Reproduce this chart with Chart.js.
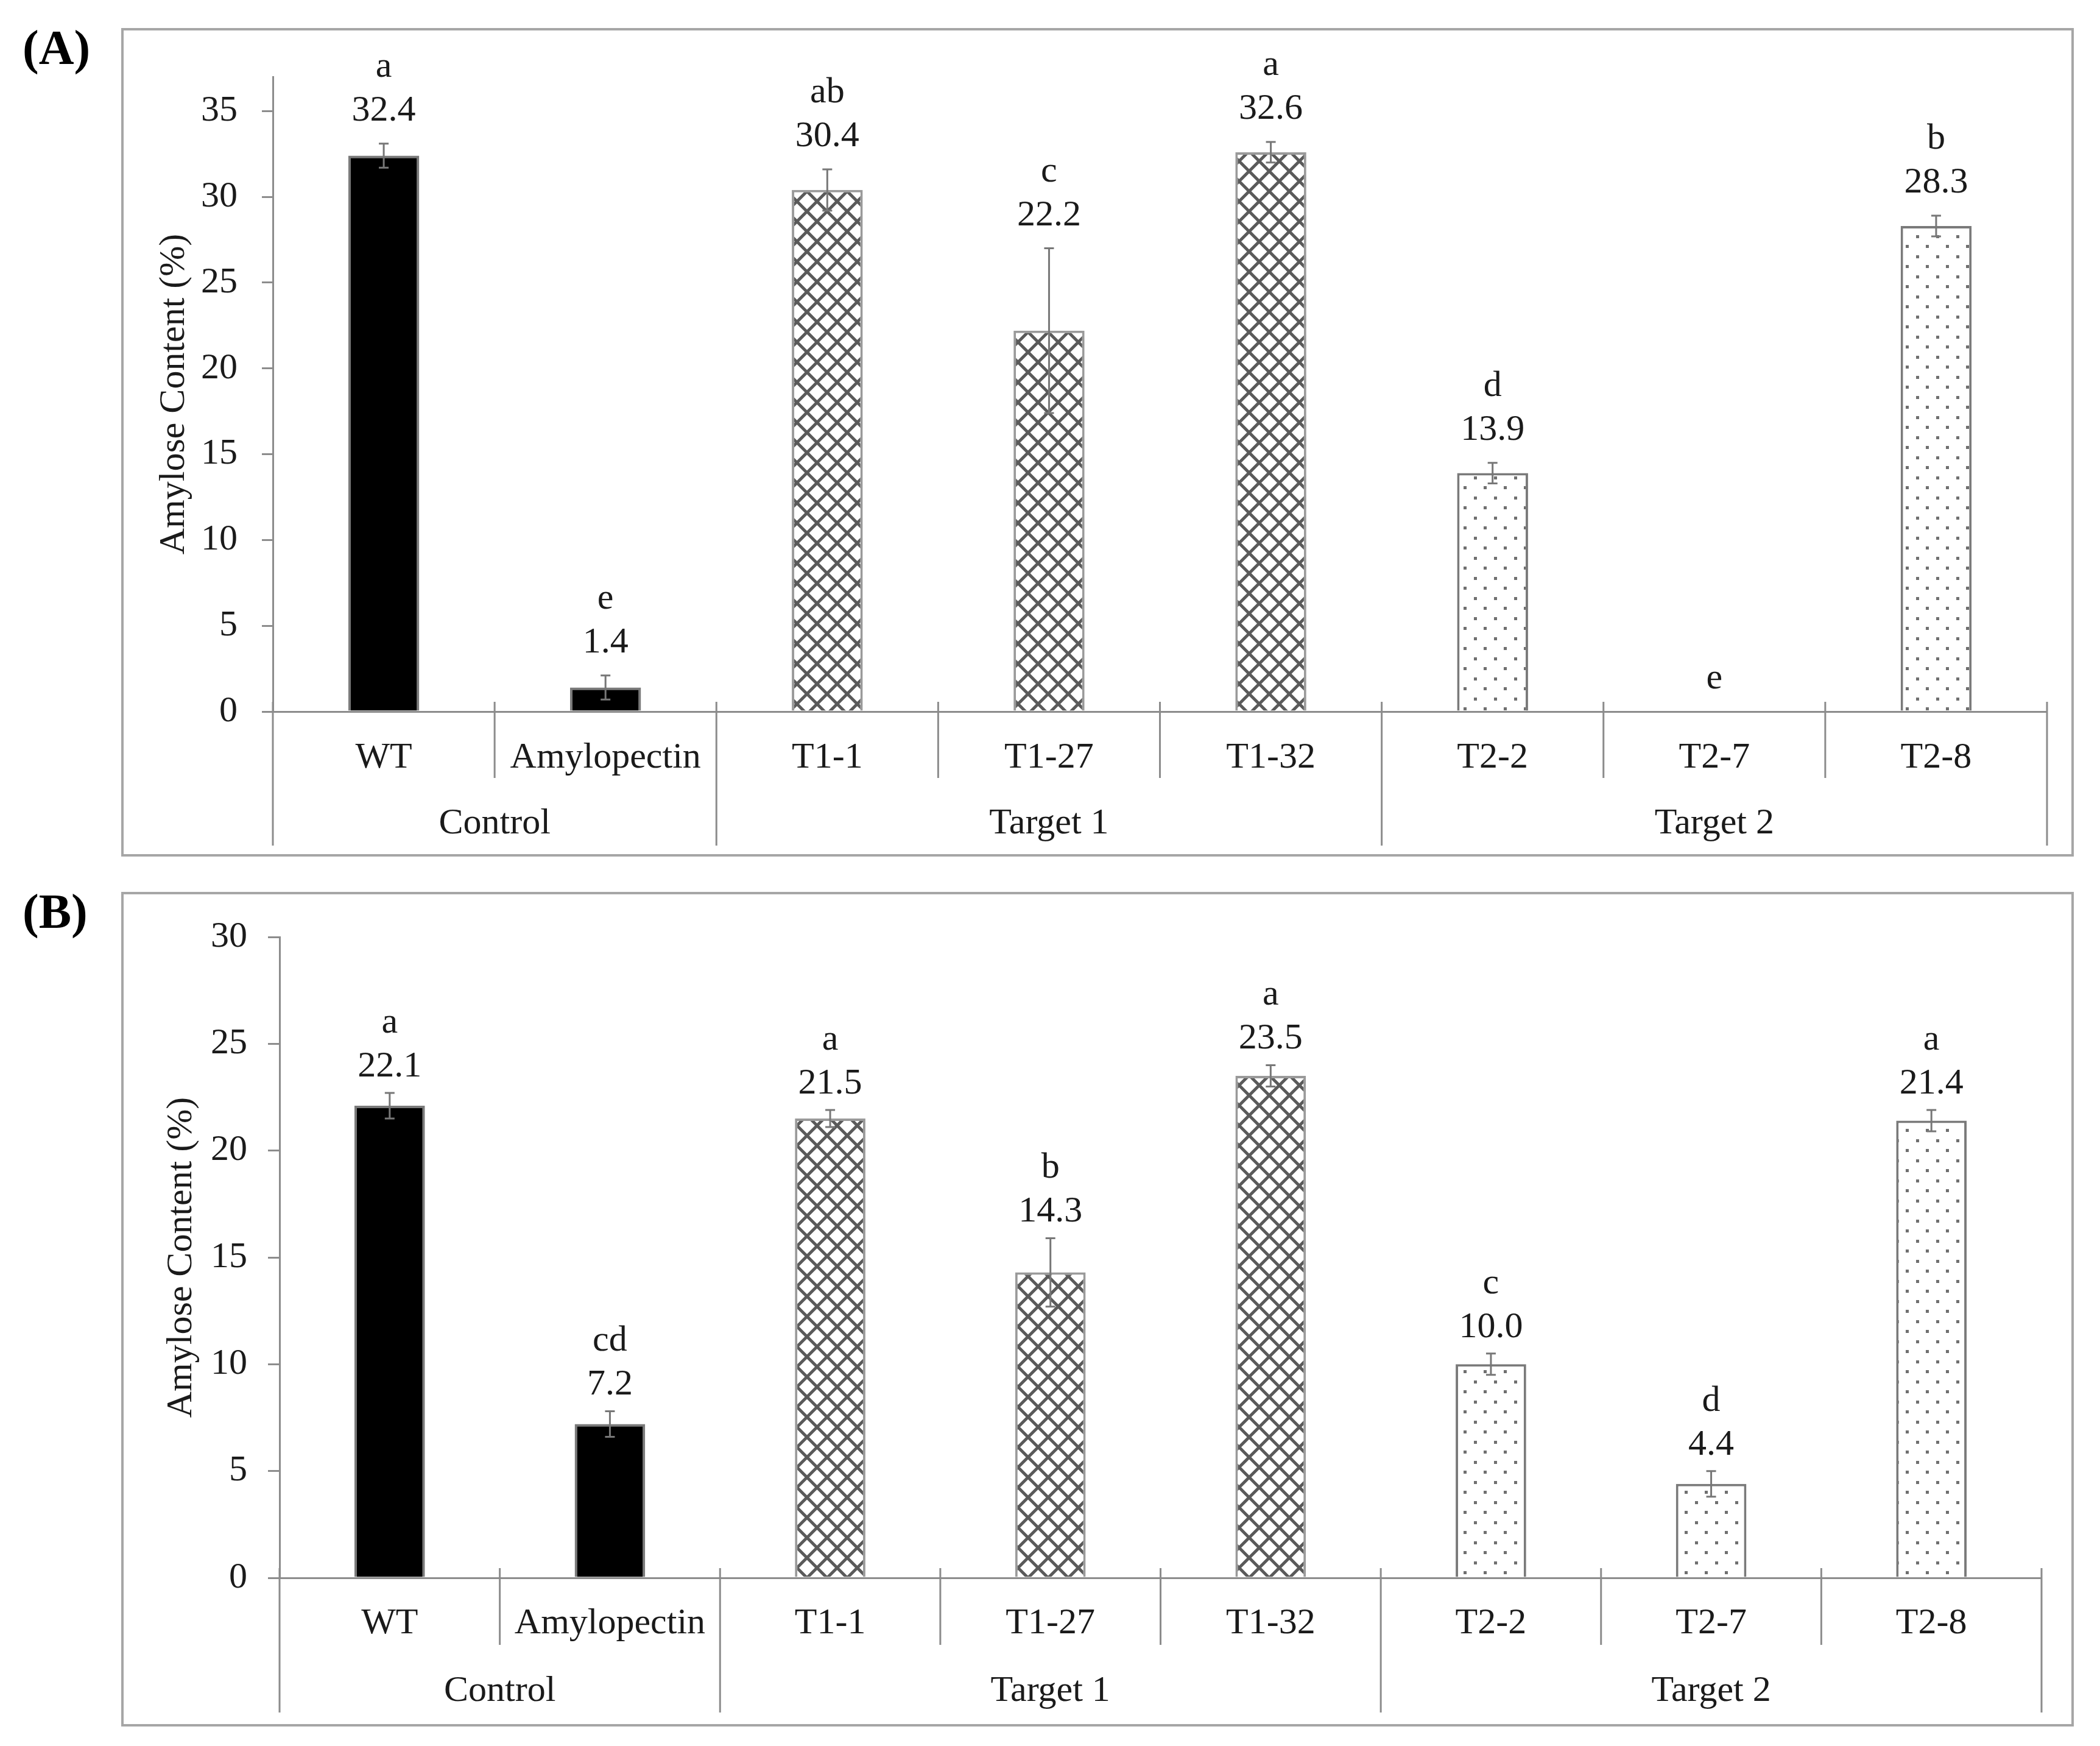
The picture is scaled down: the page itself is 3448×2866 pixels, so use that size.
<!DOCTYPE html>
<html lang="en">
<head>
    <meta charset="UTF-8" />
    <title>Amylose content</title>
    <script src="https://cdn.jsdelivr.net/npm/chart.js"></script>
    <style>
        body { margin: 0; background: #fff; width: 3448px; height: 2866px; position: relative; font-family: "Liberation Serif", serif; }
        .panel { position: absolute; left: 199px; width: 3198px; border: 4px solid #a6a6a6; background: #fff; }
        .tag { position: absolute; left: 37px; font: bold 80px/80px "Liberation Serif", serif; color: #000; }
        canvas { display: block; }
    </style>
</head>
<body>
<div class="tag" style="top:38px">(A)</div>
<div class="panel" style="top:46px;height:1352px"><canvas id="chartA" width="3198" height="1352"></canvas></div>
<div class="tag" style="top:1456px">(B)</div>
<div class="panel" style="top:1464px;height:1362px"><canvas id="chartB" width="3198" height="1362"></canvas></div>

<script>
    // data
    const categories = ["WT", "Amylopectin", "T1-1", "T1-27", "T1-32", "T2-2", "T2-7", "T2-8"];
    const groups = ["Control", "Target 1", "Target 2"];
    const groupSizes = [2, 3, 3];

    const amyloseA = [32.4, 1.4, 30.4, 22.2, 32.6, 13.9, 0, 28.3];
    const errorA = [0.7, 0.7, 1.2, 4.8, 0.6, 0.6, 0, 0.6];
    const lettersA = ["a", "e", "ab", "c", "a", "d", "e", "b"];
    const yTicksA = [0, 5, 10, 15, 20, 25, 30, 35];

    const amyloseB = [22.1, 7.2, 21.5, 14.3, 23.5, 10.0, 4.4, 21.4];
    const errorB = [0.6, 0.6, 0.4, 1.6, 0.5, 0.5, 0.6, 0.5];
    const lettersB = ["a", "cd", "a", "b", "a", "c", "d", "a"];
    const yTicksB = [0, 5, 10, 15, 20, 25, 30];

    const FONT = "Liberation Serif";
    const FSIZE = 60;
    const TEXT = "#1a1a1a";
    const AXIS = "#8c8c8c";

    function makeHatch() {
        const c = document.createElement("canvas");
        c.width = 33; c.height = 33;
        const g = c.getContext("2d");
        g.fillStyle = "#fff"; g.fillRect(0, 0, 33, 33);
        g.strokeStyle = "#5a5a5a"; g.lineWidth = 5;
        g.beginPath();
        g.moveTo(-3, -3); g.lineTo(36, 36);
        g.moveTo(-3, 36); g.lineTo(36, -3);
        g.stroke();
        return c;
    }

    function makeDots() {
        const c = document.createElement("canvas");
        c.width = 33; c.height = 33;
        const g = c.getContext("2d");
        g.fillStyle = "#fff"; g.fillRect(0, 0, 33, 33);
        g.fillStyle = "#707070";
        g.fillRect(6, 6, 5, 5);
        g.fillRect(22, 22, 5, 5);
        return c;
    }

    // fill per group: solid black, cross hatch, dots
    function barFills(ctx) {
        const fills = ["#000", ctx.createPattern(makeHatch(), "repeat"), ctx.createPattern(makeDots(), "repeat")];
        const borders = ["#7a7a7a", "#9a9a9a", "#7a7a7a"];
        const bg = [], bc = [];
        groupSizes.forEach((n, gi) => {
            for (let k = 0; k < n; k++) { bg.push(fills[gi]); bc.push(borders[gi]); }
        });
        return { bg, bc };
    }

    const decor = {
        id: "decor",
        afterDraw(chart, args, opts) {
            const ctx = chart.ctx;
            const xs = chart.scales.x, ys = chart.scales.y;
            const meta = chart.getDatasetMeta(0);
            const y0 = ys.getPixelForValue(0);
            ctx.save();

            // error bars, value labels and letters
            opts.values.forEach((v, i) => {
                const cx = meta.data[i].x;
                const e = opts.errors[i];
                if (e > 0) {
                    const yt = ys.getPixelForValue(v + e);
                    const yb = ys.getPixelForValue(v - e);
                    ctx.strokeStyle = "#777";
                    ctx.lineWidth = 3;
                    ctx.beginPath();
                    ctx.moveTo(cx, yt); ctx.lineTo(cx, yb);
                    ctx.moveTo(cx - 8, yt); ctx.lineTo(cx + 8, yt);
                    ctx.moveTo(cx - 8, yb); ctx.lineTo(cx + 8, yb);
                    ctx.stroke();
                }
                ctx.fillStyle = TEXT;
                ctx.font = FSIZE + "px '" + FONT + "'";
                ctx.textAlign = "center";
                ctx.textBaseline = "alphabetic";
                let base;
                if (v > 0) {
                    base = ys.getPixelForValue(v + e) - opts.labelGap;
                    ctx.fillText(v.toFixed(1), cx, base);
                    base -= 72;
                } else {
                    base = y0 - 38;
                }
                ctx.fillText(opts.letters[i], cx, base);
            });

            // multi-level category axis
            const n = categories.length;
            const bounds = [];
            for (let i = 0; i <= n; i++) {
                if (i === 0) bounds.push(chart.chartArea.left);
                else if (i === n) bounds.push(chart.chartArea.right);
                else bounds.push((xs.getPixelForValue(i - 1) + xs.getPixelForValue(i)) / 2);
            }
            const groupEdges = [0];
            groupSizes.forEach((s) => groupEdges.push(groupEdges[groupEdges.length - 1] + s));

            ctx.strokeStyle = AXIS;
            ctx.lineWidth = 3;
            ctx.beginPath();
            bounds.forEach((bx, i) => {
                const isGroup = groupEdges.includes(i);
                ctx.moveTo(bx, y0 - 16);
                ctx.lineTo(bx, y0 + (isGroup ? opts.groupDrop : opts.catDrop));
            });
            ctx.stroke();

            ctx.fillStyle = TEXT;
            ctx.font = FSIZE + "px '" + FONT + "'";
            ctx.textAlign = "center";
            ctx.textBaseline = "middle";
            groups.forEach((g, gi) => {
                const gx = (bounds[groupEdges[gi]] + bounds[groupEdges[gi + 1]]) / 2;
                ctx.fillText(g, gx, y0 + opts.groupY);
            });
            ctx.restore();
        }
    };

    function makePanel(id, values, errors, letters, yTicks, yMax, geo) {
        const canvas = document.getElementById(id);
        const ctx = canvas.getContext("2d");
        const fills = barFills(ctx);
        return new Chart(ctx, {
            type: "bar",
            data: {
                labels: categories,
                datasets: [{
                    data: values,
                    backgroundColor: fills.bg,
                    borderColor: fills.bc,
                    borderWidth: 4,
                    barPercentage: 0.32,
                    categoryPercentage: 1
                }]
            },
            options: {
                responsive: false,
                animation: false,
                events: [],
                layout: { padding: { top: geo.top, right: canvas.width - geo.right, left: 0, bottom: 0 } },
                plugins: {
                    legend: { display: false },
                    tooltip: { enabled: false },
                    decor: { values, errors, letters, labelGap: geo.labelGap, catDrop: geo.catDrop, groupDrop: geo.groupDrop, groupY: geo.groupY }
                },
                scales: {
                    x: {
                        grid: { display: false, drawTicks: false },
                        border: { color: AXIS, width: 3 },
                        ticks: { padding: geo.xPad, autoSkip: false, maxRotation: 0, color: TEXT, font: { family: FONT, size: FSIZE } },
                        afterFit: (s) => { s.height = canvas.height - geo.bottom; }
                    },
                    y: {
                        min: 0,
                        max: yMax,
                        afterBuildTicks: (s) => { s.ticks = yTicks.map((v) => ({ value: v })); },
                        grid: { drawOnChartArea: false, tickLength: geo.tick, color: AXIS, lineWidth: 3 },
                        border: { color: AXIS, width: 3 },
                        ticks: { padding: geo.yPad, color: TEXT, font: { family: FONT, size: FSIZE } },
                        title: {
                            display: true,
                            text: "Amylose Content (%)",
                            color: TEXT,
                            font: { family: FONT, size: FSIZE },
                            padding: { top: geo.titlePad, bottom: 0 }
                        },
                        afterFit: (s) => { s.width = geo.left; }
                    }
                }
            },
            plugins: [decor]
        });
    }

    makePanel("chartA", amyloseA, errorA, lettersA, yTicksA, 37,
        { left: 245, right: 3158, top: 50, bottom: 1118, tick: 18, yPad: 40, titlePad: 47, xPad: 40, labelGap: 38, catDrop: 109, groupDrop: 220, groupY: 184 });
    makePanel("chartB", amyloseB, errorB, lettersB, yTicksB, 30,
        { left: 256, right: 3149, top: 52, bottom: 1122, tick: 19, yPad: 34, titlePad: 59, xPad: 39, labelGap: 27, catDrop: 110, groupDrop: 221, groupY: 186 });
</script>
</body>
</html>
